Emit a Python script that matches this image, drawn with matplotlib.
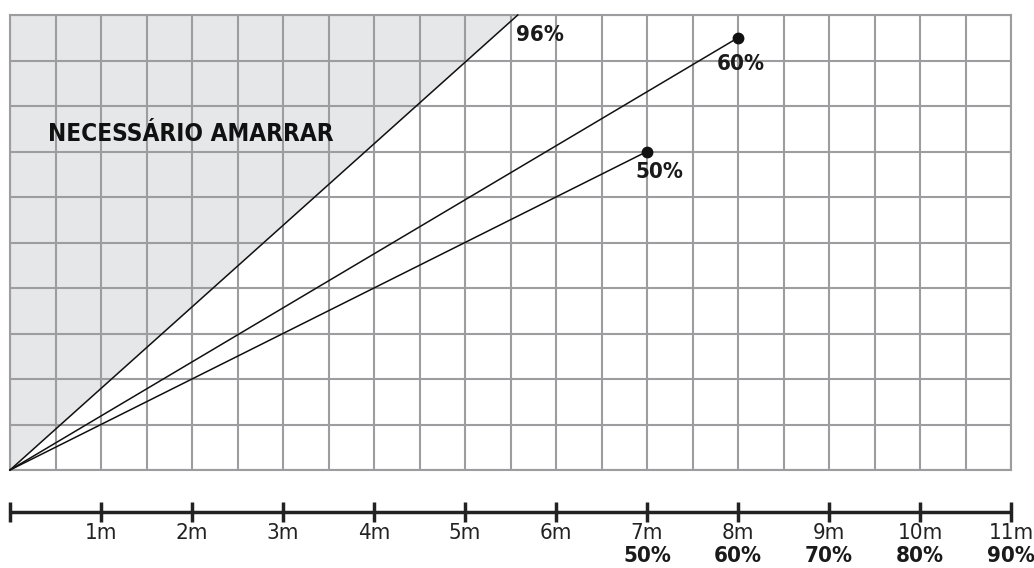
import matplotlib
matplotlib.use("Agg")
import matplotlib.pyplot as plt
import numpy as np

# Data
ramps = ["96%", "60%", "50%"]
ramp_end_x = [5.58, 8.0, 7.0]
ramp_end_y = [5.0, 4.75, 3.5]
ramp_dots = [False, True, True]
ramp_label_xy = [(5.82, 4.78), (8.03, 4.46), (7.14, 3.27)]
tick_m = [1, 2, 3, 4, 5, 6, 7, 8, 9, 10, 11]
tick_labels = ["1m", "2m", "3m", "4m", "5m", "6m", "7m", "8m", "9m", "10m", "11m"]
pct_x = [7, 8, 9, 10, 11]
pct_labels = ["50%", "60%", "70%", "80%", "90%"]
zone_label = "NECESSÁRIO AMARRAR"

FONT = ["DejaVu Sans"]

fig = plt.figure(figsize=(10.34, 5.68), dpi=100)
ax = fig.add_axes([10/1034, 98/568, 1001/1034, 455/568])
ax.set_xlim(0, 11)
ax.set_ylim(0, 5)

grid_c = "#9d9d9f"
for x in np.arange(0, 11.01, 0.5):
    ax.axvline(x, color=grid_c, lw=1.5, zorder=1)
for y in np.arange(0, 5.01, 0.5):
    ax.axhline(y, color=grid_c, lw=1.5, zorder=1)
for s in ax.spines.values():
    s.set_color(grid_c)
    s.set_linewidth(1.5)
ax.set_xticks([])
ax.set_yticks([])

# shaded zone above the steepest line
ax.fill([0, ramp_end_x[0], 0], [0, ramp_end_y[0], ramp_end_y[0]],
        color="#e6e7e9", zorder=0)

for name, ex, ey, dot, (lx, ly) in zip(ramps, ramp_end_x, ramp_end_y, ramp_dots, ramp_label_xy):
    ax.plot([0, ex], [0, ey], color="#111111", lw=1.1, zorder=3, clip_on=False)
    if dot:
        ax.plot([ex], [ey], "o", color="#111111", ms=7.5, zorder=4, clip_on=False)
    ax.text(lx, ly, name, ha="center", va="center", fontsize=16, fontweight="bold",
            family=FONT, fontstretch="condensed", color="#1a1a1a", zorder=5)

ax.text(0.42, 3.69, zone_label, ha="left", va="center", fontsize=17.5, fontweight="bold",
        family=FONT, fontstretch="condensed", color="#111111", zorder=5)

# ruler
ry = -0.4615
ax.plot([0, 11], [ry, ry], color="#222222", lw=2.5, clip_on=False, solid_capstyle="butt")
ax.plot([0] + tick_m, [ry] * (len(tick_m) + 1), "|", color="#222222", ms=15, mew=2.5, clip_on=False)
for x, t in zip(tick_m, tick_labels):
    ax.text(x, -0.69, t, ha="center", va="center", fontsize=16, family=FONT,
            fontstretch="condensed", color="#222222")
for x, t in zip(pct_x, pct_labels):
    ax.text(x, -0.945, t, ha="center", va="center", fontsize=16, fontweight="bold",
            family=FONT, fontstretch="condensed", color="#1a1a1a")

fig.savefig("out.png", dpi=100)
